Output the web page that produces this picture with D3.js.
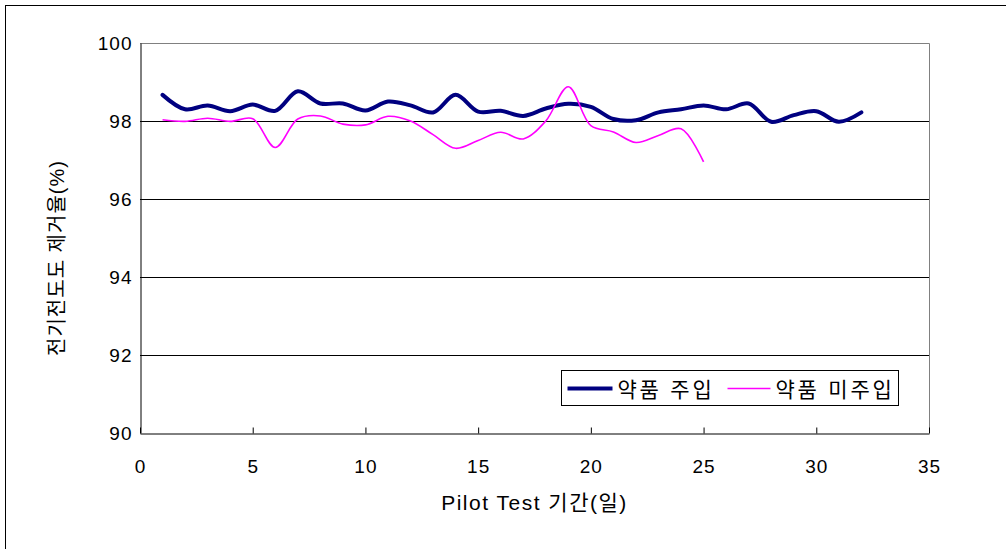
<!DOCTYPE html>
<html>
<head>
<meta charset="utf-8">
<script src="https://cdn.jsdelivr.net/npm/d3@7"></script>
<style>
  body { margin: 0; background: #fff; }
  text { font-family: "Liberation Sans", "Noto Sans CJK KR", sans-serif; fill: #000; }
</style>
</head>
<body>
<svg width="1006" height="549"></svg>
<script>
// Data
var daysDosed = d3.range(1, 33);
var removalDosed = [98.67, 98.30, 98.40, 98.25, 98.42, 98.26, 98.76, 98.45, 98.45, 98.27,
                    98.50, 98.40, 98.22, 98.67, 98.24, 98.26, 98.13, 98.32, 98.44, 98.36,
                    98.05, 98.02, 98.22, 98.30, 98.40, 98.30, 98.45, 97.98, 98.15, 98.25,
                    97.98, 98.22];
var daysUndosed = d3.range(1, 26);
var removalUndosed = [98.03, 97.99, 98.07, 97.99, 98.06, 97.32, 98.05, 98.13, 97.92, 97.90,
                      98.12, 98.00, 97.65, 97.30, 97.50, 97.71, 97.54, 98.00, 98.88, 97.88,
                      97.72, 97.45, 97.63, 97.80, 96.95];
var seriesNames = ["약품 주입", "약품 미주입"];
var seriesColors = ["#000080", "#ff00ff"];
var xTicks = d3.range(0, 36, 5);
var yTicks = [90, 92, 94, 96, 98, 100];

// Layout
var plot = {left: 140, right: 929, top: 43, bottom: 433};

var svg = d3.select("svg");

// outer frame (runs off the right/bottom edge like the source)
svg.append("rect")
  .attr("x", 5.5).attr("y", 5.5)
  .attr("width", 1010).attr("height", 560)
  .attr("fill", "#fff")
  .attr("stroke", "#000")
  .attr("stroke-width", 1);

var x = d3.scaleLinear().domain([0, 35]).range([plot.left, plot.right]);
var y = d3.scaleLinear().domain([90, 100]).range([plot.bottom, plot.top]);

// plot border (grey top/right)
svg.append("path")
  .attr("d", "M" + [plot.left, plot.top + 0.5] + "H" + (plot.right + 0.5) + "V" + plot.bottom)
  .attr("fill", "none")
  .attr("stroke", "#808080");

// gridlines
svg.append("g")
  .selectAll("line")
  .data(yTicks.filter(function (d) { return d > 90 && d < 100; }))
  .enter().append("line")
    .attr("x1", plot.left).attr("x2", plot.right)
    .attr("y1", function (d) { return Math.round(y(d)) + 0.5; })
    .attr("y2", function (d) { return Math.round(y(d)) + 0.5; })
    .attr("stroke", "#000");

// y axis
var yAxis = svg.append("g")
  .attr("transform", "translate(" + (plot.left + 0.5) + ",0)")
  .call(d3.axisLeft(y).tickValues(yTicks).tickSize(0).tickPadding(8));
yAxis.select(".domain").attr("stroke", "#000");
yAxis.selectAll("text").style("font-size", "19px").style("letter-spacing", "1px");

// x axis, ticks pointing inward
var xAxis = svg.append("g")
  .attr("transform", "translate(0," + (plot.bottom + 0.5) + ")")
  .call(d3.axisBottom(x).tickValues(xTicks).tickSizeInner(-6).tickSizeOuter(0).tickPadding(26));
xAxis.select(".domain").attr("stroke", "#000");
xAxis.selectAll("line").attr("stroke", "#000");
xAxis.selectAll("text").style("font-size", "19px").style("letter-spacing", "1px");

// lines
var line = d3.line()
  .x(function (d) { return x(d[0]); })
  .y(function (d) { return y(d[1]); })
  .curve(d3.curveCatmullRom.alpha(0.5));

svg.append("path")
  .datum(d3.zip(daysDosed, removalDosed))
  .attr("d", line)
  .attr("fill", "none")
  .attr("stroke", seriesColors[0])
  .attr("stroke-width", 4)
  .attr("stroke-linejoin", "round")
  .attr("stroke-linecap", "round");

svg.append("path")
  .datum(d3.zip(daysUndosed, removalUndosed))
  .attr("d", line)
  .attr("fill", "none")
  .attr("stroke", seriesColors[1])
  .attr("stroke-width", 1.6);

// axis titles
svg.append("text")
  .attr("transform", "translate(" + [64, 258] + ") rotate(-90)")
  .attr("text-anchor", "middle")
  .style("font-size", "20px")
  .style("letter-spacing", "1px")
  .text("전기전도도 제거율(%)");

svg.append("text")
  .attr("x", (plot.left + plot.right) / 2)
  .attr("y", 510)
  .attr("text-anchor", "middle")
  .style("font-size", "21px")
  .style("letter-spacing", "1.5px")
  .text("Pilot Test 기간(일)");

// legend
var legend = svg.append("g").attr("transform", "translate(561.5,370.5)");
legend.append("rect")
  .attr("width", 337).attr("height", 35)
  .attr("fill", "#fff")
  .attr("stroke", "#000");

var items = [{x: 6, w: 45, sw: 4}, {x: 166, w: 43, sw: 1.6}];
items.forEach(function (it, i) {
  legend.append("line")
    .attr("x1", it.x).attr("x2", it.x + it.w)
    .attr("y1", 18).attr("y2", 18)
    .attr("stroke", seriesColors[i])
    .attr("stroke-width", it.sw);
  legend.append("text")
    .attr("x", it.x + it.w + 5)
    .attr("y", 26)
    .style("font-size", "21px")
    .style("letter-spacing", "2.8px")
    .text(seriesNames[i]);
});
</script>
</body>
</html>
